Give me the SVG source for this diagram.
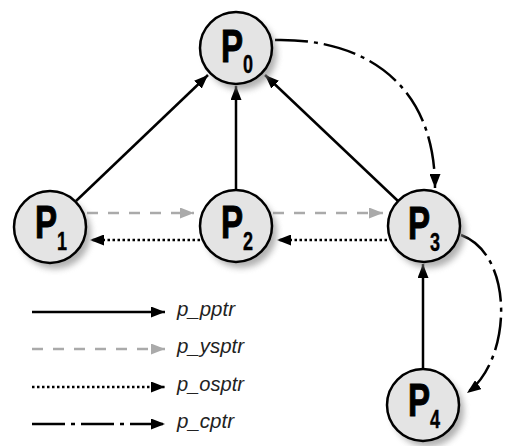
<svg xmlns="http://www.w3.org/2000/svg" width="505" height="446" viewBox="0 0 505 446">
<style>
.node{fill:#e4e4e4;stroke:#000;stroke-width:2.5}
.shadow{fill:#888;opacity:0.65;filter:url(#blur)}
.P{font-family:"Liberation Sans",Arial,sans-serif;font-weight:bold;font-size:46px;fill:#000;stroke:#000;stroke-width:1}
.sub{font-size:25px;stroke-width:0.4}
.solid{fill:none;stroke:#000;stroke-width:2.5;marker-end:url(#ah)}
.ys{fill:none;stroke:#aaa;stroke-width:2.5;stroke-dasharray:11 10;marker-end:url(#ahg)}
.os{fill:none;stroke:#000;stroke-width:2.5;stroke-dasharray:2.5 2.5;marker-end:url(#ah)}
.cp{fill:none;stroke:#000;stroke-width:2.5;stroke-dasharray:33 6 4 6;marker-end:url(#ah)}
.lbl{font-family:"Liberation Sans",Arial,sans-serif;font-style:italic;font-size:20px;fill:#222}
</style>
<defs>
<filter id="blur" x="-30%" y="-30%" width="160%" height="160%"><feGaussianBlur stdDeviation="3"/></filter>
<marker id="ah" viewBox="0 0 14 11" refX="14" refY="5.5" markerWidth="14" markerHeight="11" markerUnits="userSpaceOnUse" orient="auto"><path d="M0,0 L14,5.5 L0,11 Z" fill="#000"/></marker>
<marker id="ahg" viewBox="0 0 14 11" refX="14" refY="5.5" markerWidth="14" markerHeight="11" markerUnits="userSpaceOnUse" orient="auto"><path d="M0,0 L14,5.5 L0,11 Z" fill="#aaa"/></marker>
</defs>
<rect width="505" height="446" fill="#fff"/>

<g id="connectors">
<path class="solid" d="M76,201 L208,75"/>
<path class="solid" d="M236,190 L236,86"/>
<path class="solid" d="M398,201 L265,75"/>
<path class="solid" d="M423,368 L423,264"/>
<path class="ys" d="M87,213 L194,213"/>
<path class="ys" d="M273,213 L383,213"/>
<path class="os" d="M200,240 L90,240"/>
<path class="os" d="M387,240 L277,240"/>
<path class="cp" d="M275,40 C360,38 435,80 435,188"/>
<path class="cp" d="M461,235 C515,255 512,360 467,393"/>
</g>

<g id="P0">
<circle class="shadow" cx="241" cy="54" r="36"/>
<circle class="node" cx="236" cy="48" r="36"/>
<text class="P" transform="translate(221,62) scale(0.72,1)">P<tspan class="sub" dy="11">0</tspan></text>
</g>
<g id="P1">
<circle class="shadow" cx="55" cy="233" r="36"/>
<circle class="node" cx="50" cy="227" r="36"/>
<text class="P" transform="translate(35,238) scale(0.72,1)">P<tspan class="sub" dy="12">1</tspan></text>
</g>
<g id="P2">
<circle class="shadow" cx="241" cy="232" r="36"/>
<circle class="node" cx="236" cy="226" r="36"/>
<text class="P" transform="translate(221,238) scale(0.72,1)">P<tspan class="sub" dy="12">2</tspan></text>
</g>
<g id="P3">
<circle class="shadow" cx="429" cy="232" r="36"/>
<circle class="node" cx="424" cy="226" r="36"/>
<text class="P" transform="translate(408,239) scale(0.72,1)">P<tspan class="sub" dy="12">3</tspan></text>
</g>
<g id="P4">
<circle class="shadow" cx="428" cy="411" r="36"/>
<circle class="node" cx="423" cy="405" r="36"/>
<text class="P" transform="translate(408,416) scale(0.72,1)">P<tspan class="sub" dy="12">4</tspan></text>
</g>

<g id="legend">
<path class="solid" d="M32,312 L165,312"/>
<path class="ys" d="M32,349 L165,349"/>
<path class="os" d="M32,387 L165,387"/>
<path class="cp" d="M32,424 L165,424"/>
<text class="lbl" x="177" y="316" textLength="58" lengthAdjust="spacingAndGlyphs">p_pptr</text>
<text class="lbl" x="177" y="353" textLength="67" lengthAdjust="spacingAndGlyphs">p_ysptr</text>
<text class="lbl" x="177" y="391" textLength="67" lengthAdjust="spacingAndGlyphs">p_osptr</text>
<text class="lbl" x="177" y="428" textLength="57" lengthAdjust="spacingAndGlyphs">p_cptr</text>
</g>
</svg>
